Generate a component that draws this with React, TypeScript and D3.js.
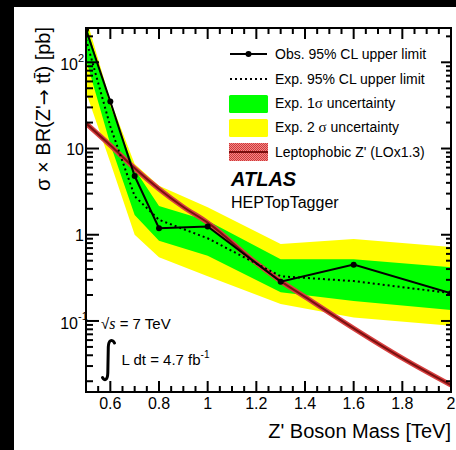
import React, { useEffect, useRef } from 'react';
import * as d3 from 'd3';

// Z' masses [TeV] where the limits were computed
const masses = [0.5, 0.6, 0.7, 0.8, 1.0, 1.3, 1.6, 2.0];
// limits [pb]
const obsLimit = [240, 35, 4.8, 1.19, 1.25, 0.285, 0.45, 0.21];
const expLimit = [185, 18, 2.8, 1.49, 0.91, 0.33, 0.29, 0.21];
const exp1Lo = [108, 11.2, 1.7, 0.85, 0.57, 0.216, 0.171, 0.134];
const exp1Hi = [280, 31, 5.75, 2.16, 1.45, 0.52, 0.52, 0.42];
const exp2Lo = [45, 6.9, 1.0, 0.55, 0.33, 0.157, 0.11, 0.088];
const exp2Hi = [330, 36, 6.6, 3.7, 2.09, 0.78, 0.89, 0.72];

// leptophobic Z' theory curve
const leptoMass = [0.5, 0.6, 0.7, 0.8, 0.9, 1.0, 1.2, 1.3, 1.4, 1.6, 1.8, 2.0];
const leptoXsec = [19.6, 10.9, 5.9, 3.4, 2.1, 1.38, 0.47, 0.29, 0.19, 0.082, 0.037, 0.018];

const xMajor = [0.6, 0.8, 1.0, 1.2, 1.4, 1.6, 1.8, 2.0];
const xLabels = ['0.6', '0.8', '1', '1.2', '1.4', '1.6', '1.8', '2'];
const yMajor = [0.1, 1, 10, 100];
const yBase = ['10', '1', '10', '10'];
const ySup = ['-1', '', '', '2'];

const SANS = 'Liberation Sans, Arial, Helvetica, sans-serif';
const SERIF = 'Liberation Serif, Times New Roman, serif';

export default function App() {
  const ref = useRef<SVGSVGElement | null>(null);

  useEffect(() => {
    const svg = d3.select(ref.current);
    svg.selectAll('*').remove();

    const W = 456, H = 450;
    const left = 86, right = 451, top = 28, bottom = 392;

    // page background (black strip on left / top)
    svg.append('rect').attr('width', W).attr('height', H).attr('fill', '#000');
    svg.append('rect').attr('x', 14).attr('y', 7).attr('width', W - 14).attr('height', H - 7).attr('fill', '#fff');

    const x = d3.scaleLinear().domain([0.5, 2.0]).range([left, right]);
    const y = d3.scaleLog().domain([0.015, 250]).range([bottom, top]);

    const defs = svg.append('defs');
    defs.append('clipPath').attr('id', 'plotclip')
      .append('rect').attr('x', left).attr('y', top).attr('width', right - left).attr('height', bottom - top);
    const pat = defs.append('pattern').attr('id', 'hatch').attr('width', 2).attr('height', 2)
      .attr('patternUnits', 'userSpaceOnUse');
    pat.append('rect').attr('width', 2).attr('height', 2).attr('fill', '#f08a8a');
    pat.append('rect').attr('width', 1).attr('height', 1).attr('fill', '#d03838');
    pat.append('rect').attr('x', 1).attr('y', 1).attr('width', 1).attr('height', 1).attr('fill', '#d03838');

    const plot = svg.append('g').attr('clip-path', 'url(#plotclip)');

    const band = (lo: number[], hi: number[]) =>
      d3.area<number>()
        .x((d, i) => x(masses[i]))
        .y0((d, i) => y(lo[i]))
        .y1((d, i) => y(hi[i]))(masses);

    plot.append('path').attr('d', band(exp2Lo, exp2Hi)).attr('fill', '#ffff00');
    plot.append('path').attr('d', band(exp1Lo, exp1Hi)).attr('fill', '#00ff00');

    // theory curve
    const lepto = d3.line<number>()
      .x((d, i) => x(leptoMass[i]))
      .y((d) => y(d))
      .curve(d3.curveMonotoneX);
    plot.append('path').attr('d', lepto(leptoXsec)).attr('fill', 'none')
      .attr('stroke', '#d84040').attr('stroke-width', 5);
    plot.append('path').attr('d', lepto(leptoXsec)).attr('fill', 'none')
      .attr('stroke', '#7a1010').attr('stroke-width', 2);

    const lim = d3.line<number>().x((d, i) => x(masses[i])).y((d) => y(d));
    plot.append('path').attr('d', lim(expLimit)).attr('fill', 'none')
      .attr('stroke', '#000').attr('stroke-width', 2).attr('stroke-dasharray', '2,3');
    plot.append('path').attr('d', lim(obsLimit)).attr('fill', 'none')
      .attr('stroke', '#000').attr('stroke-width', 2);
    plot.selectAll('circle.obs').data(obsLimit).enter().append('circle')
      .attr('cx', (d, i) => x(masses[i])).attr('cy', (d) => y(d)).attr('r', 3).attr('fill', '#000');

    // axes frame + ticks
    const ax = svg.append('g').attr('stroke', '#000').attr('stroke-width', 2);
    const xMinor = d3.range(0, 31).map((i) => 0.5 + i * 0.05);
    xMinor.forEach((m) => {
      const major = xMajor.some((v) => Math.abs(v - m) < 1e-6);
      const len = major ? 11 : 6;
      ax.append('line').attr('x1', x(m)).attr('x2', x(m)).attr('y1', bottom).attr('y2', bottom - len);
      ax.append('line').attr('x1', x(m)).attr('x2', x(m)).attr('y1', top).attr('y2', top + len);
    });
    const yTicks: number[] = [];
    [0.01, 0.1, 1, 10, 100].forEach((dec) => {
      for (let k = 1; k <= 9; k++) {
        const v = dec * k;
        if (v >= 0.015 && v <= 250) yTicks.push(v);
      }
    });
    yTicks.forEach((v) => {
      const major = yMajor.some((m) => Math.abs(m - v) / m < 1e-6);
      ax.append('line').attr('x1', left).attr('x2', left + (major ? 13 : 7)).attr('y1', y(v)).attr('y2', y(v));
      ax.append('line').attr('x1', right).attr('x2', right - (major ? 10 : 5)).attr('y1', y(v)).attr('y2', y(v));
    });
    svg.append('rect').attr('x', left).attr('y', top).attr('width', right - left).attr('height', bottom - top)
      .attr('fill', 'none').attr('stroke', '#000').attr('stroke-width', 2);

    const txt = svg.append('g').attr('font-family', SANS).attr('fill', '#000');

    xMajor.forEach((v, i) => {
      txt.append('text').attr('x', x(v)).attr('y', 409).attr('text-anchor', 'middle')
        .attr('font-size', 16).text(xLabels[i]);
    });
    yMajor.forEach((v, i) => {
      if (ySup[i]) {
        txt.append('text').attr('x', 78).attr('y', y(v) + 8).attr('text-anchor', 'end')
          .attr('font-size', 16).text(yBase[i]);
        txt.append('text').attr('x', 78).attr('y', y(v) - 0.5).attr('font-size', 11).text(ySup[i]);
      } else {
        txt.append('text').attr('x', 84).attr('y', y(v) + 6).attr('text-anchor', 'end')
          .attr('font-size', 16).text(yBase[i]);
      }
    });

    txt.append('text').attr('x', 451).attr('y', 438).attr('text-anchor', 'end')
      .attr('font-size', 20).text("Z' Boson Mass [TeV]");
    const yl = txt.append('text').attr('transform', 'translate(50,27) rotate(-90)').attr('text-anchor', 'end')
      .attr('font-size', 20);
    yl.append('tspan').text("\u03c3 \u00d7 BR(Z'");
    yl.append('tspan').attr('font-family', 'DejaVu Sans').attr('font-size', 19).text('\u2192');
    yl.append('tspan').text(' tt\u0304) [pb]');

    // legend
    const lx0 = 230, lx1 = 267, tx = 275;
    const leg = svg.append('g');
    leg.append('line').attr('x1', lx0).attr('x2', lx1).attr('y1', 54).attr('y2', 54)
      .attr('stroke', '#000').attr('stroke-width', 2);
    leg.append('circle').attr('cx', (lx0 + lx1) / 2).attr('cy', 54).attr('r', 3).attr('fill', '#000');
    leg.append('line').attr('x1', lx0).attr('x2', lx1).attr('y1', 79).attr('y2', 79)
      .attr('stroke', '#000').attr('stroke-width', 2).attr('stroke-dasharray', '2,3');
    leg.append('rect').attr('x', 229).attr('y', 95).attr('width', 39).attr('height', 18).attr('rx', 1.5).attr('fill', '#00ff00');
    leg.append('rect').attr('x', 229).attr('y', 119).attr('width', 39).attr('height', 18).attr('rx', 1.5).attr('fill', '#ffff00');
    leg.append('rect').attr('x', 229).attr('y', 143).attr('width', 39).attr('height', 18).attr('fill', 'url(#hatch)');
    leg.append('line').attr('x1', 229).attr('x2', 268).attr('y1', 152).attr('y2', 152)
      .attr('stroke', '#7a1010').attr('stroke-width', 2);

    const legText = [
      'Obs. 95% CL upper limit',
      'Exp. 95% CL upper limit',
    ];
    txt.append('text').attr('x', tx).attr('y', 59).attr('font-size', 14).text(legText[0]);
    txt.append('text').attr('x', tx).attr('y', 84).attr('font-size', 14).text(legText[1]);
    const s1 = txt.append('text').attr('x', tx).attr('y', 108).attr('font-size', 14);
    s1.append('tspan').text('Exp. 1');
    s1.append('tspan').attr('font-family', SERIF).attr('font-size', 15).text('\u03c3');
    s1.append('tspan').text(' uncertainty');
    const s2 = txt.append('text').attr('x', tx).attr('y', 132).attr('font-size', 14);
    s2.append('tspan').text('Exp. 2 ');
    s2.append('tspan').attr('font-family', SERIF).attr('font-size', 15).text('\u03c3');
    s2.append('tspan').text(' uncertainty');
    txt.append('text').attr('x', tx).attr('y', 157).attr('font-size', 14).text("Leptophobic Z' (LOx1.3)");

    txt.append('text').attr('x', 231).attr('y', 186).attr('font-size', 20)
      .attr('font-weight', 'bold').attr('font-style', 'italic').text('ATLAS');
    txt.append('text').attr('x', 231).attr('y', 208).attr('font-size', 16).text('HEPTopTagger');

    // energy / luminosity
    const sq = txt.append('text').attr('x', 101).attr('y', 329).attr('font-size', 15);
    sq.append('tspan').text('\u221a');
    sq.append('tspan').attr('font-family', SERIF).attr('font-style', 'italic').attr('font-size', 16).text('s');
    sq.append('tspan').text(' = 7 TeV');

    svg.append('path')
      .attr('d', 'M114.5,343 C112,338.5 108.5,340 108.3,347 L107.8,373 C107.6,380 104.5,381.5 102.5,377.5')
      .attr('fill', 'none').attr('stroke', '#000').attr('stroke-width', 3).attr('stroke-linecap', 'round');

    const lum = txt.append('text').attr('x', 121.5).attr('y', 365).attr('font-size', 15);
    lum.append('tspan').text('L dt = 4.7 fb');
    lum.append('tspan').attr('font-size', 10).attr('dy', -7).text('-1');
  }, []);

  return (
    <svg ref={ref} width={456} height={450} style={{ position: 'absolute', left: 0, top: 0 }} />
  );
}
